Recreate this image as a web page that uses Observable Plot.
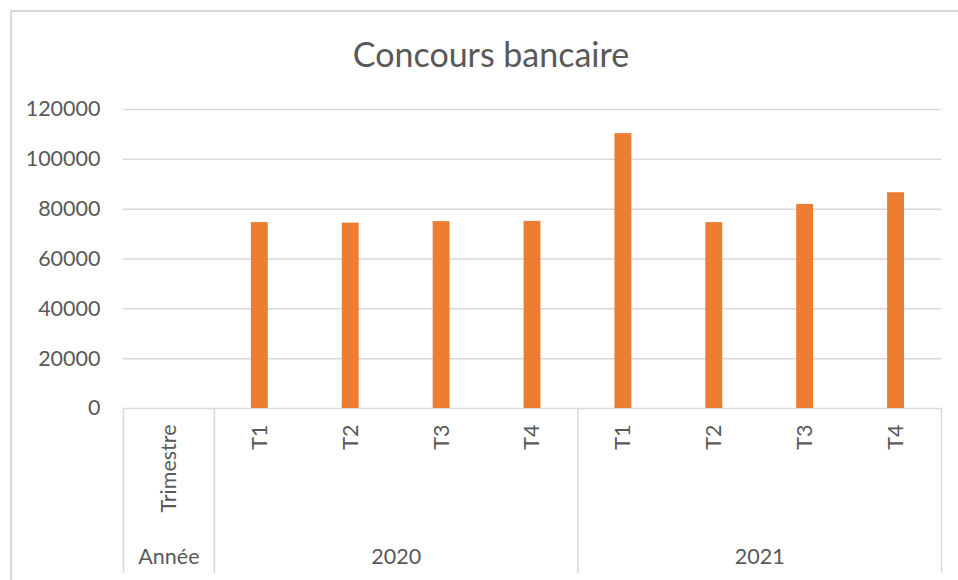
<!DOCTYPE html>
<html>
<head>
<meta charset="utf-8">
<script src="https://cdn.jsdelivr.net/npm/d3@7"></script>
<script src="https://cdn.jsdelivr.net/npm/@observablehq/plot@0.6"></script>
<style>
  html, body { margin: 0; padding: 0; background: #fff; overflow: hidden; width: 958px; height: 580px; }
  #frame { position: absolute; left: 10px; top: 10px; width: 980px; height: 600px;
           border-top: 2px solid #d9d9d9; border-left: 2px solid #d9d9d9; box-sizing: border-box; pointer-events: none; }
  #title { position: relative; width: 982px; height: 88px; box-sizing: border-box; padding-top: 33px;
           text-align: center; font-family: Lato, sans-serif; font-size: 34px; color: #595959; line-height: normal; }
  #chart svg { display: block; }
</style>
</head>
<body>
<div id="frame"></div>
<div id="title">Concours bancaire</div>
<div id="chart"></div>
<script>
// ---- data ----
const years = ["2020", "2021"];
const quarters = ["T1", "T2", "T3", "T4"];
const values2020 = [74600, 74400, 75000, 75100];
const values2021 = [110300, 74600, 81900, 86600];
const levelNames = ["Trimestre", "Année"];
const yTicks = [0, 20000, 40000, 60000, 80000, 100000, 120000];

// ---- table ----
const seriesByYear = [values2020, values2021];
const rows = [];
years.forEach((yr, yi) => {
  quarters.forEach((q, qi) => {
    rows.push({year: yr, quarter: q, value: seriesByYear[yi][qi], slot: 1 + yi * quarters.length + qi});
  });
});
const header = {label1: levelNames[0], label2: levelNames[1], x1: 0, x2: 1};
const groups = years.map((yr, yi) => ({label: yr, x1: 1 + yi * quarters.length, x2: 1 + (yi + 1) * quarters.length}));
const bounds = [0, 1, ...groups.map(g => g.x2)];
const nSlots = 1 + years.length * quarters.length;

const textColor = "#595959";
const gridColor = "#d9d9d9";
const font = "Lato, sans-serif";
const fs = 21.5;

const plot = Plot.plot({
  width: 958,
  height: 492,
  marginTop: 21,
  marginBottom: 172,
  marginLeft: 123,
  marginRight: 17,
  style: {fontFamily: font, fontSize: fs + "px", color: textColor, background: "transparent", overflow: "visible"},
  x: {domain: [0, nSlots], axis: null},
  y: {domain: [0, 120000], ticks: yTicks, tickSize: 0, tickPadding: 23, tickFormat: d => String(d), label: null, line: false},
  marks: [
    Plot.ruleY(yTicks, {y: d => d, stroke: gridColor, strokeWidth: 1.5}),
    Plot.rectY(rows, {x1: "slot", x2: d => d.slot + 1, y: "value", fill: "#ED7D31", insetLeft: 37, insetRight: 37}),
    Plot.ruleX(bounds, {x: d => d, y1: 0, y2: 0, insetBottom: -165, stroke: gridColor, strokeWidth: 1.5}),
    // quarter labels (rotated)
    Plot.text(rows, {x: d => d.slot + 0.5, text: "quarter", frameAnchor: "bottom", rotate: -90, textAnchor: "end",
                     lineAnchor: "middle", dy: 16, fill: textColor, fontSize: fs, fontFamily: font}),
    Plot.text([header], {x: d => (d.x1 + d.x2) / 2, text: "label1", frameAnchor: "bottom", rotate: -90, textAnchor: "end",
                     lineAnchor: "middle", dy: 16, fill: textColor, fontSize: fs, fontFamily: font}),
    // year labels
    Plot.text(groups, {x: d => (d.x1 + d.x2) / 2, text: "label", frameAnchor: "bottom", lineAnchor: "middle",
                     dy: 148.5, fill: textColor, fontSize: fs, fontFamily: font}),
    Plot.text([header], {x: d => (d.x1 + d.x2) / 2, text: "label2", frameAnchor: "bottom", lineAnchor: "middle",
                     dy: 148.5, fill: textColor, fontSize: fs, fontFamily: font})
  ]
});
document.getElementById("chart").appendChild(plot);
</script>
</body>
</html>
